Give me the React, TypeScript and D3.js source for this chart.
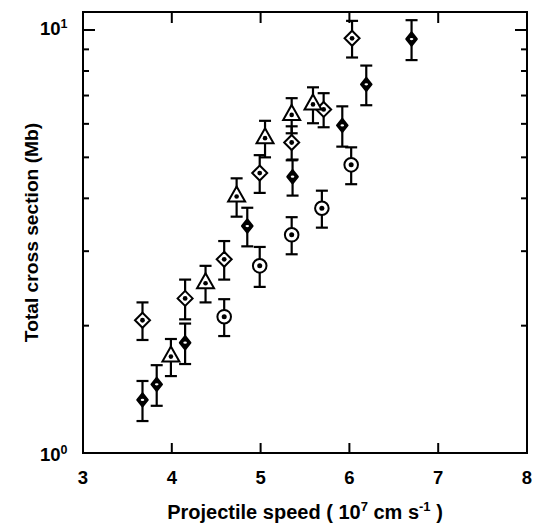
import React from "react";
import * as d3 from "d3";

// Series A: open diamonds with dot
const aSpeed = [3.67, 4.15, 4.59, 4.99, 5.35, 5.71, 6.03];
const aSigma = [2.06, 2.32, 2.87, 4.59, 5.42, 6.49, 9.56];
const aErr = [0.21, 0.25, 0.3, 0.47, 0.5, 0.6, 0.95];

// Series B: filled black markers
const bSpeed = [3.67, 3.83, 4.15, 4.85, 5.36, 5.92, 6.19, 6.7];
const bSigma = [1.335, 1.453, 1.823, 3.44, 4.5, 5.95, 7.44, 9.52];
const bErr = [0.145, 0.16, 0.2, 0.36, 0.44, 0.65, 0.8, 1.03];

// Series C: open triangles with dot
const cSpeed = [3.99, 4.38, 4.73, 5.05, 5.35, 5.59];
const cSigma = [1.69, 2.52, 4.04, 5.55, 6.3, 6.67];
const cErr = [0.17, 0.25, 0.42, 0.55, 0.6, 0.65];

// Series D: open circles with dot
const dSpeed = [4.59, 4.99, 5.35, 5.69, 6.02];
const dSigma = [2.1, 2.77, 3.28, 3.79, 4.8];
const dErr = [0.21, 0.3, 0.33, 0.38, 0.48];

const xTicks = [3, 4, 5, 6, 7, 8];
const yMinor = [2, 3, 4, 5, 6, 7, 8, 9];

const W = 536;
const H = 527;
const L = 83, R = 527, T = 12, B = 453;
const FONT = "'Liberation Sans', Arial, Helvetica, sans-serif";

export default function App() {
  const x = d3.scaleLinear().domain([3, 8]).range([L, R]);
  const y = d3.scaleLog().domain([1, 11.03]).range([B, T]);

  const errBars = (xs: number[], ys: number[], es: number[], key: string) =>
    xs.map((v, i) => {
      const cx = x(v);
      const y1 = y(ys[i] + es[i]);
      const y2 = y(ys[i] - es[i]);
      return (
        <g key={key + i} stroke="#000" strokeWidth={2.2} fill="none">
          <line x1={cx} x2={cx} y1={y1} y2={y2} />
          <line x1={cx - 6} x2={cx + 6} y1={y1} y2={y1} />
          <line x1={cx - 6} x2={cx + 6} y1={y2} y2={y2} />
        </g>
      );
    });

  const diamond = (s: number) => `M0,${-s}L${s},0L0,${s}L${-s},0Z`;

  return (
    <svg
      width={W}
      height={H}
      style={{ position: "absolute", left: 0, top: 0, background: "#fff" }}
      fontFamily={FONT}
    >
      <rect x={0} y={0} width={W} height={H} fill="#fff" />
      {/* frame */}
      <rect x={L} y={T} width={R - L} height={B - T} fill="none" stroke="#000" strokeWidth={2} />
      {/* x ticks */}
      {xTicks.map((t) => (
        <g key={"xt" + t} stroke="#000" strokeWidth={2}>
          <line x1={x(t)} x2={x(t)} y1={B} y2={B - 10} />
          <line x1={x(t)} x2={x(t)} y1={T} y2={T + 11} />
        </g>
      ))}
      {xTicks.map((t) => (
        <text
          key={"xl" + t}
          x={x(t)}
          y={484}
          textAnchor="middle"
          fontSize={18.5}
          fontWeight="bold"
        >
          {t}
        </text>
      ))}
      {/* y ticks */}
      {[1, 10].map((t) => (
        <g key={"ym" + t} stroke="#000" strokeWidth={2}>
          <line x1={L} x2={L + 12} y1={y(t)} y2={y(t)} />
          <line x1={R} x2={R - 12} y1={y(t)} y2={y(t)} />
        </g>
      ))}
      {yMinor.map((t) => (
        <g key={"yn" + t} stroke="#000" strokeWidth={2}>
          <line x1={L} x2={L + 6} y1={y(t)} y2={y(t)} />
          <line x1={R} x2={R - 6} y1={y(t)} y2={y(t)} />
        </g>
      ))}
      <text x={40} y={y(10) + 5} fontSize={18.5} fontWeight="bold">
        10
        <tspan fontSize={12.5} dy={-7}>1</tspan>
      </text>
      <text x={40} y={y(1) + 8} fontSize={18.5} fontWeight="bold">
        10
        <tspan fontSize={12.5} dy={-7}>0</tspan>
      </text>
      {/* axis titles */}
      <text
        transform={`translate(38,${(T + B) / 2}) rotate(-90)`}
        textAnchor="middle"
        fontSize={19.2}
        fontWeight="bold"
      >
        Total cross section (Mb)
      </text>
      <text x={305} y={519} textAnchor="middle" fontSize={20} fontWeight="bold">
        Projectile speed ( 10
        <tspan fontSize={13} dy={-8}>7</tspan>
        <tspan dy={8}> cm s</tspan>
        <tspan fontSize={13} dy={-8}>-1</tspan>
        <tspan dy={8}> )</tspan>
      </text>

      {/* error bars */}
      {errBars(aSpeed, aSigma, aErr, "ea")}
      {errBars(bSpeed, bSigma, bErr, "eb")}
      {errBars(cSpeed, cSigma, cErr, "ec")}
      {errBars(dSpeed, dSigma, dErr, "ed")}

      {/* series A markers */}
      {aSpeed.map((v, i) => (
        <g key={"ma" + i} transform={`translate(${x(v)},${y(aSigma[i])})`}>
          <path d={diamond(7.5)} fill="#fff" stroke="#000" strokeWidth={2} />
          <circle r={2.4} fill="#000" />
        </g>
      ))}
      {/* series C markers */}
      {cSpeed.map((v, i) => (
        <g key={"mc" + i} transform={`translate(${x(v)},${y(cSigma[i])})`}>
          <path d="M0,-10L8.5,5L-8.5,5Z" fill="#fff" stroke="#000" strokeWidth={2} strokeLinejoin="miter" />
          <circle r={2.3} fill="#000" />
        </g>
      ))}
      {/* series D markers */}
      {dSpeed.map((v, i) => (
        <g key={"md" + i} transform={`translate(${x(v)},${y(dSigma[i])})`}>
          <circle r={6.8} fill="#fff" stroke="#000" strokeWidth={2} />
          <circle r={2.5} fill="#000" />
        </g>
      ))}
      {/* series B markers */}
      {bSpeed.map((v, i) => (
        <g key={"mb" + i} transform={`translate(${x(v)},${y(bSigma[i])})`}>
          <path d="M0,-6.5L5.2,0L0,6.5L-5.2,0Z" fill="#000" stroke="#000" strokeWidth={2.2} strokeLinejoin="round" />
          <ellipse rx={1.8} ry={1.1} fill="#fff" />
        </g>
      ))}
    </svg>
  );
}
